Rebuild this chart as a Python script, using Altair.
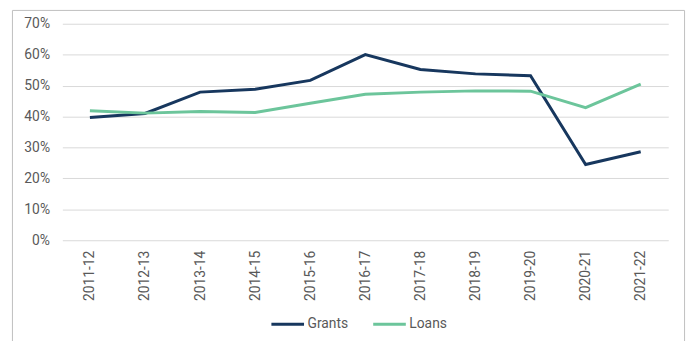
import altair as alt
import pandas as pd

years = ["2011-12", "2012-13", "2013-14", "2014-15", "2015-16", "2016-17",
         "2017-18", "2018-19", "2019-20", "2020-21", "2021-22"]
grants = [39.7, 41.0, 47.9, 48.8, 51.7, 60.0, 55.2, 53.8, 53.2, 24.5, 28.6]
loans = [41.9, 41.1, 41.6, 41.3, 44.3, 47.2, 47.9, 48.3, 48.2, 42.9, 50.5]
series = ["Grants", "Loans"]
colors = ["#17375E", "#6CC59B"]

rows = []
for i, y in enumerate(years):
    rows.append({"year": y, "series": "Grants", "value": grants[i] / 100})
    rows.append({"year": y, "series": "Loans", "value": loans[i] / 100})
df = pd.DataFrame(rows)

font = "Roboto"
gray = "#595959"

lines = alt.Chart(df).mark_line(strokeWidth=3, strokeJoin="miter").encode(
    x=alt.X("year:N", sort=years, title=None,
            scale=alt.Scale(paddingInner=0, paddingOuter=0.5),
            axis=alt.Axis(labelAngle=-90, labelAlign="right", labelBaseline="middle",
                          labelPadding=10, ticks=False, domain=False,
                          labelFont=font, labelFontSize=14, labelColor=gray)),
    y=alt.Y("value:Q", title=None,
            scale=alt.Scale(domain=[0, 0.7], nice=False),
            axis=alt.Axis(format=".0%", values=[0, 0.1, 0.2, 0.3, 0.4, 0.5, 0.6, 0.7],
                          ticks=False, domain=False, labelPadding=13,
                          gridColor="#D9D9D9", gridWidth=1,
                          labelFont=font, labelFontSize=14, labelColor=gray)),
    color=alt.Color("series:N", sort=series, title=None,
                    scale=alt.Scale(domain=series, range=colors),
                    legend=alt.Legend(orient="none", legendX=210, legendY=286,
                                      direction="horizontal", symbolType="stroke",
                                      symbolSize=1089, symbolStrokeWidth=3,
                                      labelFont=font, labelFontSize=14, labelColor=gray,
                                      labelOffset=2, columnPadding=18, padding=0)),
)

frame = alt.Chart(pd.DataFrame({"a": [0]})).mark_rect(
    fill=None, stroke="#BFBFBF", strokeWidth=1, clip=False
).encode(
    x=alt.value(-50.5), x2=alt.value(629.5), y=alt.value(-13.5), y2=alt.value(400)
)

chart = alt.layer(frame, lines).properties(
    width=613, height=219,
    autosize=alt.AutoSizeParams(type="none"),
    padding={"left": 55, "top": 14, "right": 21, "bottom": 100},
).configure_view(stroke=None)

chart.save("out.html", embed_options={"renderer": "svg", "actions": False})
